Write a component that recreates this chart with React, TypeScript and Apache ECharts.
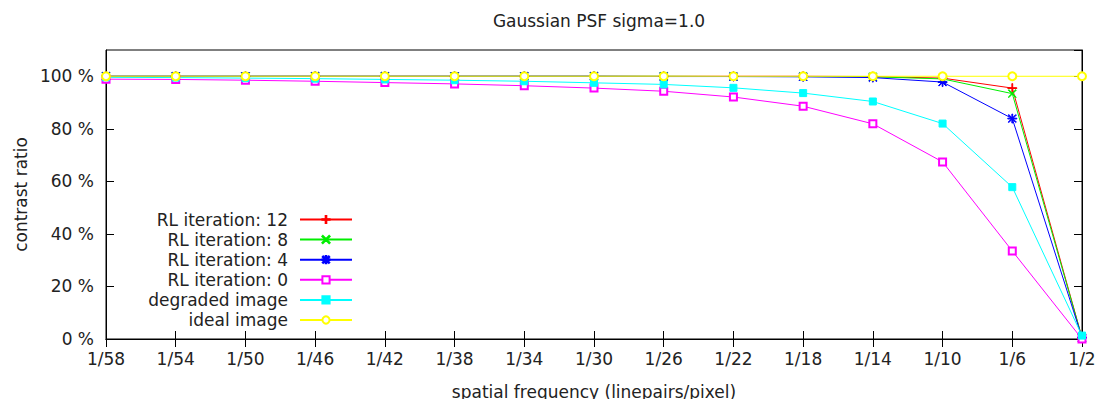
import React, { useEffect, useRef } from 'react';
import * as echarts from 'echarts';

const categories = ['1/58', '1/54', '1/50', '1/46', '1/42', '1/38', '1/34', '1/30', '1/26', '1/22', '1/18', '1/14', '1/10', '1/6', '1/2'];
const yTickValues = [0, 20, 40, 60, 80, 100];

const rl12 = [100, 100, 100, 100, 100, 100, 100, 100, 100, 100, 100, 99.9, 99.3, 95.5, 0.5];
const rl8 = [100, 100, 100, 100, 100, 100, 100, 100, 100, 99.9, 99.9, 99.8, 99.0, 93.4, 0.5];
const rl4 = [100, 100, 100, 100, 100, 100, 100, 100, 99.9, 99.9, 99.8, 99.5, 97.8, 83.9, 0.5];
const rl0 = [98.9, 98.8, 98.5, 98.1, 97.6, 97.1, 96.4, 95.5, 94.3, 92.1, 88.6, 81.9, 67.4, 33.5, 0];
const degraded = [99.6, 99.5, 99.3, 99.1, 98.8, 98.5, 98.1, 97.5, 96.9, 95.6, 93.6, 90.4, 82.0, 57.8, 1.3];
const ideal = [100, 100, 100, 100, 100, 100, 100, 100, 100, 100, 100, 100, 100, 100, 100];

const seriesNames = ['RL iteration: 12', 'RL iteration: 8', 'RL iteration: 4', 'RL iteration: 0', 'degraded image', 'ideal image'];

const PLUS = 'path://M4.55,0H5.45V10H4.55Z M0,4.55H10V5.45H0Z';
const CROSS = 'path://M0.65,0L10,9.35L9.35,10L0,0.65Z M9.35,0L10,0.65L0.65,10L0,9.35Z';
const STAR = 'path://M4.55,0H5.45V10H4.55Z M0,4.55H10V5.45H0Z M1.1,0.5L9.5,8.9L8.9,9.5L0.5,1.1Z M8.9,0.5L9.5,1.1L1.1,9.5L0.5,8.9Z';

const FONT = 'DejaVu Sans';
const TXT = '#222';
const FS = 17;

export default function App() {
  const ref = useRef<HTMLDivElement>(null);
  useEffect(() => {
    document.body.style.margin = '0';
    const chart = echarts.init(ref.current!, null, { renderer: 'svg' });
    const mk = (name: string, data: number[], color: string, symbol: string, size: number) => ({
      name,
      type: 'line',
      data,
      symbol,
      symbolSize: size,
      showSymbol: true,
      lineStyle: { width: 1, color },
      itemStyle: { color, borderColor: color, borderWidth: 1 },
      emphasis: { disabled: true },
    });
    chart.setOption({
      animation: false,
      textStyle: { fontFamily: FONT },
      title: {
        text: 'Gaussian PSF sigma=1.0',
        left: 594,
        textAlign: 'center',
        top: 7,
        textStyle: { fontFamily: FONT, fontSize: FS, fontWeight: 'normal', color: TXT },
      },
      grid: {
        left: 106, right: 15, top: 50, bottom: 60,
        outerBoundsMode: 'none',
        containLabel: false,
        show: true, borderColor: '#000', borderWidth: 1, backgroundColor: 'transparent',
      },
      legend: {
        orient: 'vertical',
        right: 744,
        top: 211,
        padding: 0,
        align: 'right',
        itemWidth: 52,
        itemHeight: 9,
        itemGap: 3.1,
        data: seriesNames,
        textStyle: { fontFamily: FONT, fontSize: FS, color: TXT, lineHeight: 12, padding: [0, 7, 0, 0] },
      },
      xAxis: [
        {
          type: 'category',
          data: categories,
          boundaryGap: false,
          position: 'bottom',
          axisLine: { show: true, lineStyle: { color: '#000', width: 1 } },
          axisTick: { show: true, inside: true, length: 8, lineStyle: { color: '#000' } },
          axisLabel: { fontFamily: FONT, fontSize: FS, color: TXT, margin: 11 },
          splitLine: { show: false },
          name: 'spatial frequency (linepairs/pixel)',
          nameLocation: 'middle',
          nameGap: 44,
          nameTextStyle: { fontFamily: FONT, fontSize: FS, color: TXT },
        },
        {
          type: 'category',
          data: categories,
          boundaryGap: false,
          position: 'top',
          axisLine: { show: true, lineStyle: { color: '#000', width: 1 } },
          axisTick: { show: true, inside: true, length: 8, lineStyle: { color: '#000' } },
          axisLabel: { show: false },
          splitLine: { show: false },
        },
      ],
      yAxis: [
        {
          type: 'value',
          min: 0,
          max: 110,
          interval: 20,
          position: 'left',
          axisLine: { show: true, lineStyle: { color: '#000', width: 1 } },
          axisTick: { show: true, inside: true, length: 8, lineStyle: { color: '#000' } },
          axisLabel: {
            fontFamily: FONT,
            fontSize: FS,
            color: TXT,
            margin: 12,
            showMaxLabel: false,
            formatter: (v: number) => (yTickValues.indexOf(v) >= 0 ? v + ' %' : ''),
          },
          splitLine: { show: false },
          name: 'contrast ratio',
          nameLocation: 'middle',
          nameGap: 77,
          nameTextStyle: { fontFamily: FONT, fontSize: FS, color: TXT },
        },
        {
          type: 'value',
          min: 0,
          max: 110,
          interval: 20,
          position: 'right',
          axisLine: { show: true, lineStyle: { color: '#000', width: 1 } },
          axisTick: { show: true, inside: true, length: 8, lineStyle: { color: '#000' } },
          axisLabel: { show: false },
          splitLine: { show: false },
        },
      ],
      series: [
        mk(seriesNames[0], rl12, '#ff0000', PLUS, 9),
        mk(seriesNames[1], rl8, '#00ee00', CROSS, 8),
        mk(seriesNames[2], rl4, '#0000ff', STAR, 9),
        mk(seriesNames[3], rl0, '#ff00ff', 'emptyRect', 7),
        mk(seriesNames[4], degraded, '#00ffff', 'rect', 7),
        mk(seriesNames[5], ideal, '#ffff00', 'emptyCircle', 8),
      ],
    });
    return () => chart.dispose();
  }, []);
  return <div ref={ref} style={{ width: 1097, height: 399 }} />;
}
